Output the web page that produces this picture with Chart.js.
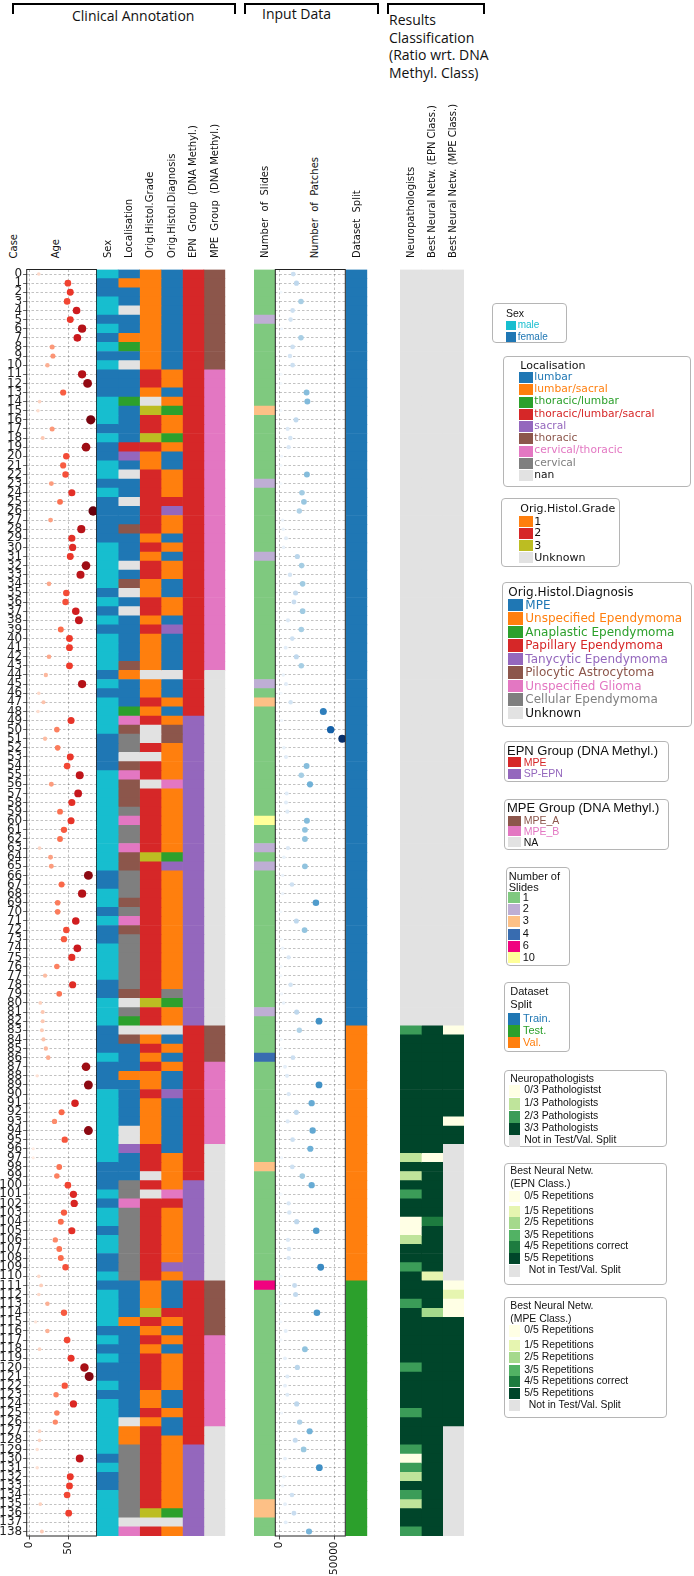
<!DOCTYPE html>
<html>
<head>
<meta charset="utf-8">
<script src="https://cdn.jsdelivr.net/npm/chart.js@4.4.1/dist/chart.umd.min.js"></script>
<style>
body { margin: 0; background: #fff; width: 694px; height: 1576px; position: relative; overflow: hidden; font-family: 'DejaVu Sans', sans-serif; }
canvas.pane { position: absolute; left: 0; top: 0; }
.br { position: absolute; top: 3px; height: 9px; border: 2px solid #000; border-bottom: none; }
.hd { position: absolute; font-family: 'Open Sans', sans-serif; font-size: 14px; color: #111; white-space: nowrap; }
.vl { position: absolute; writing-mode: vertical-rl; transform: rotate(180deg); font-size: 10px; line-height: 12px; width: 12px; white-space: pre; color: #111; }
.lg { position: absolute; border: 1.2px solid #b5b5b5; border-radius: 4px; box-sizing: border-box; }
.lg span { position: absolute; white-space: pre; line-height: 1; }
.lg i { position: absolute; }
</style>
</head>
<body>
<!-- header brackets -->
<div class="br" style="left:12px;width:220px"></div>
<div class="br" style="left:244px;width:131px"></div>
<div class="br" style="left:387px;width:94px"></div>
<div class="hd" style="left:72px;top:6px">Clinical Annotation</div>
<div class="hd" style="left:262px;top:4px">Input Data</div>
<div class="hd" style="left:389px;top:11px;line-height:17.7px">Results<br>Classification<br>(Ratio wrt. DNA<br>Methyl. Class)</div>

<div class="vl" style="left:8px;bottom:1318px">Case</div>
<div class="vl" style="left:50px;bottom:1318px">Age</div>
<div class="vl" style="left:309px;bottom:1318px">Number  of  Patches</div>

<canvas id="cAge" class="pane" width="694" height="1576"></canvas>
<canvas id="cClin" class="pane" width="694" height="1576"></canvas>
<canvas id="cSlides" class="pane" width="694" height="1576"></canvas>
<canvas id="cSplit" class="pane" width="694" height="1576"></canvas>
<canvas id="cPatch" class="pane" width="694" height="1576"></canvas>
<canvas id="cRes" class="pane" width="694" height="1576"></canvas>

<script>
// ---- data ----
function rows(s) { return s.replace(/ /g, '').split(''); }

const caseIds = Array.from({ length: 139 }, (_, i) => i);

const age = [
  12, 49, 52, 48, 60, 52, 67, 61, 29, 30,
  23, 67, 74, 43, 13, 11, 78, 29, 17, 72,
  47, 43, 46, 28, 54, 39, 81, 27, 66, 54,
  55, 52, 72, 65, 25, 47, 46, 59, 63, 40,
  51, 51, 25, 51, 21, 67, 12, 18, 11, 53,
  35, 20, 36, 52, 48, 64, 28, 62, 54, 39,
  53, 44, 39, 13, 27, 28, 75, 41, 67, 36,
  36, 59, 47, 44, 61, 54, 35, 20, 55, 38,
  14, 17, 17, 16, 18, 21, 24, 72, 10, 75,
  null, 58, 41, 32, 75, 45, 5, 5, 38, 35,
  49, 56, 57, 44, 40, 54, 33, 38, 40, 46,
  12, 15, 12, 23, 44, 8, 23, 48, 13, 53,
  70, 76, 45, 34, 56, 35, 33, 13, 13, 10,
  64, 10, 52, 51, 48, 14, 50, null, 16
];
const ageTicks = [0, 50];

const patches = [
  12700, 15600, 1500, 19700, 12100, 10300, 2100, 19700, 12100, 9700,
  12100, 1500, 1500, 24800, 25500, 1500, 15200, 7600, 10000, 8500,
  2100, 1500, 25100, 1500, 20600, 22400, 18200, 3000, 3600, 6100,
  3900, 16400, 20300, 9700, 21200, 14800, 13300, 21200, 7900, 20000,
  11800, 5800, 15500, 20000, 3600, 6100, 1500, 10300, 40000, 2100,
  46700, 57300, 4200, 6100, 24800, 20000, 27900, 6700, 6100, 7300,
  25100, 23300, 23300, 7900, 4200, 23300, 3000, 11500, 3000, 33300,
  1500, 15500, 23000, 1500, 3000, 8500, 1500, 1500, 10300, 2100,
  3900, 15800, 36100, 18200, 1500, 1500, 12400, 5200, 7000, 36100,
  8500, 29400, 15500, 7600, 30300, 12100, 28200, 2100, 11800, 20900,
  29400, 1500, 8500, 9100, 15800, 33600, 7900, 8800, 8500, 37600,
  1500, 13900, 14800, 1500, 34200, 1500, 5800, 1500, 23300, 5200,
  16400, 7300, 5200, 7300, 15800, 2100, 18500, 27600, 14500, 22100,
  5200, 36400, 4200, 3000, 11500, 5200, 13300, 5800, 27000
];
const patchTicks = [0, 50000];

const sexKeys = 'MF';
const sexNames = ['male', 'female'];
const sex = rows('MFFMMFMFMF MFFFMMMFMF FMMFMFFFFF MMMMMFMFMF MMMMFMFMMM MFFFFMMMMM MMMMMMFFMM FMFFMMMMFF MMMFFFMFFF MMMMMMMMFF FMFMMFMMFF MFMMMMFMFM FFMFMMMMMM FMFFMMMMM');

const locKeys = 'LSTXstcCn';
const locNames = ['lumbar', 'lumbar/sacral', 'thoracic/lumbar', 'thoracic/lumbar/sacral', 'sacral', 'thoracic', 'cervical/thoracic', 'cervical', 'nan'];
const localisation = rows('LSLLnLLSTL nLLLTLLLLX sLnLLnLLtL LLnLtnLnLL LLLtSLLLTc tCCntctttC cCCcttCCCt CctCCCCCCt nCTntLLLSL LLLLnnsLLL CCcCCCCCCC CLLLLSLLLL LLLLLLnSSC CCCCCCCnc');

const gradeKeys = '123U';
const gradeNames = ['1', '2', '3', 'Unknown'];
const grade = rows('1111111111 1221U32232 1122222221 2122112212 1111U11212 UU2U22U222 2222322222 2222222222 322U121211 211111222U 2U22222222 2111321212 2221121222 2222223U2');

const diagKeys = 'MUAPTpGCK';
const diagNames = ['MPE', 'Unspecified Ependymoma', 'Anaplastic Ependymoma', 'Papillary Ependymoma', 'Tanycytic Ependymoma', 'Pilocytic Astrocytoma', 'Unspecified Glioma', 'Cellular Ependymoma', 'Unknown'];
const diagnosis = rows('MMMMMMMMMM MUUMUAUUAU MMUUUPTUUM UMUUMMUUMT MMMMKMMUMU ppUUUUGUUU UUUUATUUUU UUUUUUUUUC AUUKMUMUMM TMMMMMMUUU UGPUUUUUUT UMMMPUMUMU UUUMMUMMUU UUUUUUAKU');

const epnKeys = 'MS';
const epnNames = ['MPE', 'SP-EPN'];
const epnGroup = rows('MMMMMMMMMM MMMMMMMMMM MMMMMMMMMM MMMMMMMMMM MMMMMMMMMS SSSSSSSSSS SSSSSSSSSS SSSSSSSSSS SSSMMMMMMM MMMMMMMMMM SSSSSSSSSS SMMMMMMMMM MMMMMMMMMS SSSSSSSSS');

const mpeKeys = 'ABN';
const mpeNames = ['MPE_A', 'MPE_B', 'NA'];
const mpeGroup = rows('AAAAAAAAAA ABBBBBBBBB BBBBBBBBBB BBBBBBBBBB BBBBNNNNNN NNNNNNNNNN NNNNNNNNNN NNNNNNNNNN NNNAAAABBB BBBBBBNNNN NNNNNNNNNN NAAAAAABBB BBBBBBBNNN NNNNNNNNN');

const slideNames = ['1', '2', '3', '4', '6', '10'];
const slides = [
  1, 1, 1, 1, 1, 2, 1, 1, 1, 1,
  1, 1, 1, 1, 1, 3, 1, 1, 1, 1,
  1, 1, 1, 2, 1, 1, 1, 1, 1, 1,
  1, 2, 1, 1, 1, 1, 1, 1, 1, 1,
  1, 1, 1, 1, 1, 2, 1, 3, 1, 1,
  1, 1, 1, 1, 1, 1, 1, 1, 1, 1,
  10, 1, 1, 2, 1, 2, 1, 1, 1, 1,
  1, 1, 1, 1, 1, 1, 1, 1, 1, 1,
  1, 2, 1, 1, 1, 1, 4, 1, 1, 1,
  1, 1, 1, 1, 1, 1, 1, 1, 3, 1,
  1, 1, 1, 1, 1, 1, 1, 1, 1, 1,
  1, 6, 1, 1, 1, 1, 1, 1, 1, 1,
  1, 1, 1, 1, 1, 1, 1, 1, 1, 1,
  1, 1, 1, 1, 1, 3, 3, 1, 1
];

const splitKeys = 'TEV';
const splitNames = ['Train.', 'Test.', 'Val.'];
const split = rows('TTTTTTTTTT TTTTTTTTTT TTTTTTTTTT TTTTTTTTTT TTTTTTTTTT TTTTTTTTTT TTTTTTTTTT TTTTTTTTTT TTTVVVVVVV VVVVVVVVVV VVVVVVVVVV VEEEEEEEEE EEEEEEEEEE EEEEEEEEE');

const neuroKeys = '0123-';
const neuroNames = ['0/3 Pathologistst', '1/3 Pathologists', '2/3 Pathologists', '3/3 Pathologists', 'Not in Test/Val. Split'];
const neuro = rows('---------- ---------- ---------- ---------- ---------- ---------- ---------- ---------- ---2333333 3333333131 3233001332 3332333333 2333323332 021321332');

const nnKeys = '012345-';
const nnNames = ['0/5 Repetitions', '1/5 Repetitions', '2/5 Repetitions', '3/5 Repetitions', '4/5 Repetitions correct', '5/5 Repetitions', 'Not in Test/Val. Split'];
const nnEpn = rows('---------- ---------- ---------- ---------- ---------- ---------- ---------- ---------- ---5555555 5555555055 5555455555 1555255555 5555555555 555555555');
const nnMpe = rows('---------- ---------- ---------- ---------- ---------- ---------- ---------- ---------- ---0555555 555055---- ---------- -010055555 5555555--- ---------');

// ---- colours ----
const NANC = '#e2e2e2';
const sexColors = ['#17becf', '#1f77b4'];
const locColors = ['#1f77b4', '#ff7f0e', '#2ca02c', '#d62728', '#9467bd', '#8c564b', '#e377c2', '#7f7f7f', NANC];
const gradeColors = ['#ff7f0e', '#d62728', '#bcbd22', NANC];
const diagColors = ['#1f77b4', '#ff7f0e', '#2ca02c', '#d62728', '#9467bd', '#8c564b', '#e377c2', '#7f7f7f', NANC];
const epnColors = ['#d62728', '#9467bd'];
const mpeColors = ['#8c564b', '#e377c2', NANC];
const slideColors = ['#7fc97f', '#beaed4', '#fdc086', '#386cb0', '#f0027f', '#ffff99'];
const splitColors = ['#1f77b4', '#2ca02c', '#ff7f0e'];
const neuroColors = ['#ffffe5', '#bfe49b', '#3b9c58', '#00452a', NANC];
const nnColors = ['#ffffe5', '#e6f5b0', '#a5d98c', '#52b264', '#1d7b3f', '#00452a', NANC];
const REDS = ['#fff5f0', '#fee0d2', '#fcbba1', '#fc9272', '#fb6a4a', '#ef3b2c', '#cb181d', '#a50f15', '#67000d'];
const BLUES = ['#f7fbff', '#deebf7', '#c6dbef', '#9ecae1', '#6baed6', '#4292c6', '#2171b5', '#08519c', '#08306b'];

function hex(h) { return [1, 3, 5].map(k => parseInt(h.substr(k, 2), 16)); }
function cmap(stops, t) {
  t = Math.max(0, Math.min(1, t));
  const p = t * (stops.length - 1);
  const i = Math.min(Math.floor(p), stops.length - 2), f = p - i;
  const a = hex(stops[i]), b = hex(stops[i + 1]);
  return 'rgb(' + a.map((v, k) => Math.round(v + (b[k] - v) * f)).join(',') + ')';
}

// ---- layout ----
const W = 694, TOP = 269.5, BOTTOM = 40, CASE_W = 26.7;
Chart.defaults.font.family = 'DejaVu Sans';
Chart.defaults.color = '#111';

const frame = {
  id: 'frame',
  afterDraw(c) {
    const a = c.chartArea, x = c.ctx;
    x.save(); x.strokeStyle = '#222'; x.lineWidth = 1;
    x.strokeRect(a.left, a.top, a.width, a.height);
    x.restore();
  }
};

const dashGrid = { color: 'rgba(0,0,0,0.3)', lineWidth: 0.8, tickColor: '#222', tickLength: 3.5, tickWidth: 0.8, tickBorderDash: [1, 0] };
const rowAxis = {
  type: 'linear', reverse: true, min: -0.5, max: 138.5,
  afterBuildTicks: s => { s.ticks = caseIds.map(v => ({ value: v })); },
  border: { display: false, dash: [2.5, 2] }
};

function dotChart(id, left, right, values, lo, hi, ticks, color, radius, withCases) {
  new Chart(document.getElementById(id), {
    type: 'scatter',
    data: {
      datasets: [{
        data: values.map((v, i) => ({ x: v, y: i })).filter(p => p.x != null),
        backgroundColor: c => color(c.raw.x),
        pointRadius: c => radius(c.raw.x),
        pointBorderWidth: 0
      }]
    },
    options: {
      responsive: false, animation: false, events: [],
      layout: { padding: { left: left, right: W - right, top: TOP, bottom: 0 } },
      plugins: { legend: { display: false }, tooltip: { enabled: false } },
      scales: {
        x: {
          type: 'linear', position: 'bottom', min: lo, max: hi,
          afterBuildTicks: s => { s.ticks = ticks.map(v => ({ value: v })); },
          afterFit: s => { s.height = BOTTOM; },
          grid: dashGrid, border: { display: false, dash: [2.5, 2] },
          ticks: { autoSkip: false, minRotation: 90, maxRotation: 90, padding: 2, font: { size: 10.5 }, callback: v => String(v) }
        },
        y: Object.assign({}, rowAxis, {
          afterFit: s => { s.width = withCases ? CASE_W : 0; },
          grid: Object.assign({}, dashGrid, { drawTicks: withCases }),
          ticks: { display: withCases, autoSkip: false, padding: 1, color: '#222', font: { size: 12 } }
        })
      }
    },
    plugins: [frame]
  });
}

function heatChart(id, left, right, cols) {
  new Chart(document.getElementById(id), {
    type: 'bar',
    data: {
      labels: caseIds,
      datasets: cols.map((c, i) => ({
        data: c.codes.map(() => [i, i + 1]),
        backgroundColor: c.codes.map(k => c.colors[c.keys.indexOf(k)]),
        barPercentage: 1, categoryPercentage: 1, grouped: false, borderWidth: 0
      }))
    },
    options: {
      indexAxis: 'y', responsive: false, animation: false, events: [],
      layout: { padding: { left: left, right: W - right, top: 0, bottom: BOTTOM } },
      plugins: { legend: { display: false }, tooltip: { enabled: false } },
      scales: {
        x: {
          type: 'linear', position: 'top', min: 0, max: cols.length,
          afterBuildTicks: s => { s.ticks = cols.map((c, i) => ({ value: i + 0.5 })); },
          afterFit: s => { s.height = TOP; },
          grid: { display: false, drawTicks: false }, border: { display: false },
          ticks: { autoSkip: false, minRotation: 90, maxRotation: 90, padding: 11.5, labelOffset: 12.5,
                   font: { size: 10 }, callback: (v, i) => cols[i].label }
        },
        y: { display: false }
      }
    }
  });
}

dotChart('cAge', 0, 96.5, age, -3.3, 85.3, ageTicks,
  a => cmap(REDS, a / 81), a => 1.3 + a * 0.042, true);

heatChart('cClin', 96.7, 225.3, [
  { label: 'Sex', codes: sex, keys: sexKeys, colors: sexColors },
  { label: 'Localisation', codes: localisation, keys: locKeys, colors: locColors },
  { label: 'Orig.Histol.Grade', codes: grade, keys: gradeKeys, colors: gradeColors },
  { label: 'Orig.Histol.Diagnosis', codes: diagnosis, keys: diagKeys, colors: diagColors },
  { label: 'EPN  Group  (DNA Methyl.)', codes: epnGroup, keys: epnKeys, colors: epnColors },
  { label: 'MPE  Group  (DNA Methyl.)', codes: mpeGroup, keys: mpeKeys, colors: mpeColors }
]);

heatChart('cSlides', 254, 275.3, [
  { label: 'Number  of  Slides', codes: slides.map(String), keys: slideNames, colors: slideColors }
]);

heatChart('cSplit', 345.7, 367.3, [
  { label: 'Dataset  Split', codes: split, keys: splitKeys, colors: splitColors }
]);

dotChart('cPatch', 275.3, 345.3, patches, -3636, 60000, patchTicks,
  v => cmap(BLUES, v / 57300), v => 1 + 3 * Math.sqrt(v / 57300), false);

heatChart('cRes', 400, 464, [
  { label: 'Neuropathologists', codes: neuro, keys: neuroKeys, colors: neuroColors },
  { label: 'Best Neural Netw. (EPN Class.)', codes: nnEpn, keys: nnKeys, colors: nnColors },
  { label: 'Best Neural Netw. (MPE Class.)', codes: nnMpe, keys: nnKeys, colors: nnColors }
]);

// ---- legends (html boxes) ----
const DV = "'DejaVu Sans'", LS = "'Liberation Sans'";
function span(parent, txt, x, y, size, fam, color) {
  const s = document.createElement('span');
  s.textContent = txt;
  s.style.cssText = `left:${x}px;top:${y - 0.53 * size}px;font-size:${size}px;font-family:${fam};color:${color}`;
  parent.appendChild(s);
}
function legend(b) {
  const d = document.createElement('div');
  d.className = 'lg';
  d.style.cssText = `left:${b.x}px;top:${b.y}px;width:${b.w}px;height:${b.h}px`;
  b.titles.forEach(t => span(d, t[0], t[1], t[2], b.ts, b.tf, '#111'));
  b.names.forEach((n, k) => {
    const y = b.iy[k];
    const p = document.createElement('i');
    p.style.cssText = `left:${b.px}px;top:${y - b.ph / 2}px;width:${b.pw}px;height:${b.ph}px;background:${b.colors[k]}`;
    d.appendChild(p);
    const black = !b.colored || b.black.includes(k);
    const ix = (b.ixLast && k === b.names.length - 1) ? b.ixLast : b.ix;
    span(d, n, ix, y, b.is, b.ff, black ? '#111' : b.colors[k]);
  });
  document.body.appendChild(d);
}
function steps(start, step, n) { const a = []; for (let k = 0; k < n; k++) a.push(start + k * step); return a; }

legend({ x: 491.7, y: 302.7, w: 75, h: 40.3, titles: [['Sex', 13.3, 10.3]], ts: 10.5, tf: LS,
  names: sexNames, colors: sexColors, iy: [21.9, 33.3], px: 13.3, pw: 10, ph: 9.5, ix: 25, is: 10, ff: LS, colored: true, black: [] });
legend({ x: 503, y: 356, w: 187.7, h: 131, titles: [['Localisation', 16.3, 8.5]], ts: 11, tf: DV,
  names: locNames, colors: locColors, iy: steps(20.5, 12.27, 9), px: 15.3, pw: 13.4, ph: 11, ix: 30.3, is: 10.7, ff: DV, colored: true, black: [8] });
legend({ x: 501, y: 497.7, w: 119, h: 69.3, titles: [['Orig.Histol.Grade', 18.3, 10.3]], ts: 11, tf: DV,
  names: gradeNames, colors: gradeColors, iy: [23.1, 34.6, 46.9, 58.8], px: 17.3, pw: 13.4, ph: 11, ix: 32.3, is: 11, ff: DV, colored: false, black: [] });
legend({ x: 502.3, y: 582.3, w: 189.4, h: 145, titles: [['Orig.Histol.Diagnosis', 5, 8.7]], ts: 12, tf: DV,
  names: diagNames, colors: diagColors, iy: steps(21.9, 13.46, 9), px: 5, pw: 14.4, ph: 12.5, ix: 22, is: 12, ff: DV, colored: true, black: [8] });
legend({ x: 504, y: 740.8, w: 165.3, h: 41.5, titles: [['EPN Group (DNA Methyl.)', 2, 8.8]], ts: 13, tf: LS,
  names: epnNames, colors: epnColors, iy: [20.4, 31.9], px: 3.3, pw: 12.7, ph: 10, ix: 18.7, is: 10.5, ff: LS, colored: true, black: [] });
legend({ x: 504, y: 798.5, w: 165, h: 51.9, titles: [['MPE Group (DNA Methyl.)', 2, 8.8]], ts: 13, tf: LS,
  names: mpeNames, colors: mpeColors, iy: [21.5, 31.6, 42.7], px: 3.3, pw: 12.7, ph: 10, ix: 18.7, is: 10.5, ff: LS, colored: true, black: [2] });
legend({ x: 505.7, y: 867, w: 64.3, h: 99, titles: [['Number of', 2, 9], ['Slides', 2, 20]], ts: 11, tf: LS,
  names: slideNames, colors: slideColors, iy: [29.7, 41.3, 53, 66.3, 78, 89.7], px: 1.6, pw: 12, ph: 11, ix: 16, is: 11, ff: LS, colored: false, black: [] });
legend({ x: 504, y: 982.3, w: 66, h: 69.4, titles: [['Dataset', 5.3, 8.4], ['Split', 5.3, 22]], ts: 11, tf: LS,
  names: splitNames, colors: splitColors, iy: [35.7, 47.7, 59.4], px: 3.3, pw: 12, ph: 11.5, ix: 18, is: 11, ff: LS, colored: true, black: [] });
legend({ x: 504, y: 1070, w: 163.3, h: 77.3, titles: [['Neuropathologists', 5.3, 9]], ts: 10.4, tf: LS,
  names: neuroNames, colors: neuroColors, iy: [20, 33, 46, 58, 70], px: 4.3, pw: 11, ph: 12, ix: 19.3, is: 10.4, ff: LS, colored: false, black: [] });
legend({ x: 504, y: 1162.7, w: 163, h: 122.3, titles: [['Best Neural Netw.', 5.3, 8], ['(EPN Class.)', 5.3, 21.3]], ts: 10.4, tf: LS,
  names: nnNames, colors: nnColors, iy: [33, 47.6, 59.3, 72, 83.3, 95, 107.3], px: 4.3, pw: 11, ph: 11.5, ix: 19.3, ixLast: 23.7, is: 10.4, ff: LS, colored: false, black: [] });
legend({ x: 504, y: 1297.3, w: 163, h: 121, titles: [['Best Neural Netw.', 5.3, 8], ['(MPE Class.)', 5.3, 21.4]], ts: 10.4, tf: LS,
  names: nnNames, colors: nnColors, iy: [32.7, 47.4, 59, 72, 83.4, 95, 107.4], px: 4.3, pw: 11, ph: 11.5, ix: 19.3, ixLast: 23.7, is: 10.4, ff: LS, colored: false, black: [] });
</script>
</body>
</html>
